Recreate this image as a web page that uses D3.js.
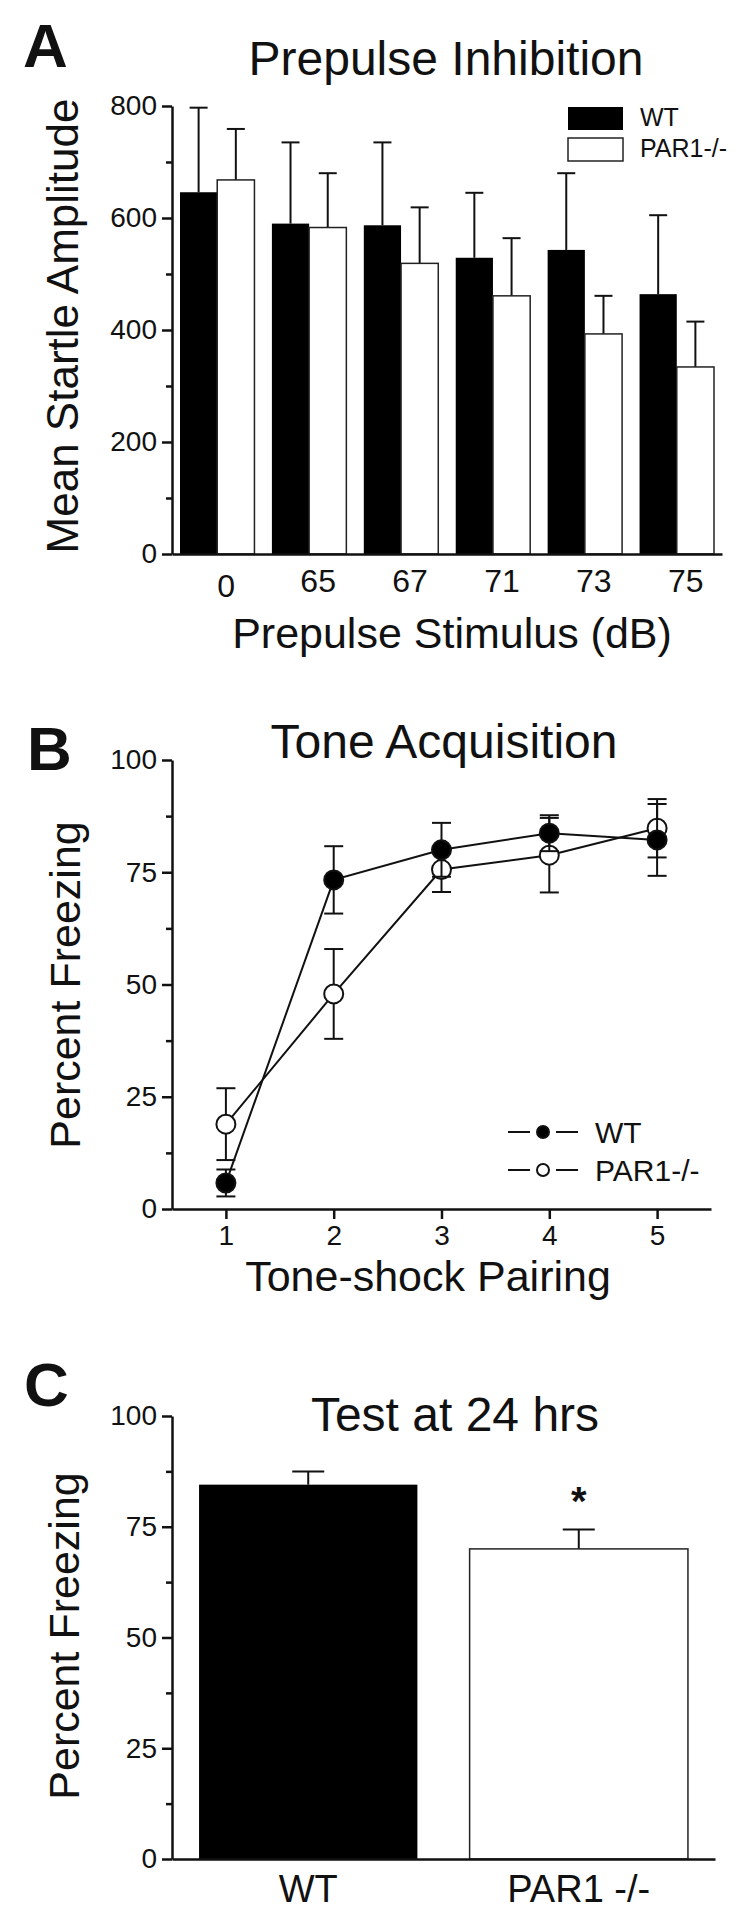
<!DOCTYPE html>
<html>
<head>
<meta charset="utf-8">
<script src="https://cdn.jsdelivr.net/npm/d3@7"></script>
<style>
body { margin: 0; background: #fff; }
svg text { font-family: "Liberation Sans", Arial, sans-serif; fill: #111; }
</style>
</head>
<body>
<script>
var width = 750;
var height = 1932;

// panel A: prepulse inhibition
var ppiStimuli = ["0", "65", "67", "71", "73", "75"];
var ppiWT = [646, 590, 587, 529, 543, 464];
var ppiWTsem = [151, 145, 148, 116, 137, 141];
var ppiKO = [668, 583, 519, 461, 393, 334];
var ppiKOsem = [91, 97, 100, 103, 68, 81];
var ppiTicks = [0, 200, 400, 600, 800];
var ppiMinor = [100, 300, 500, 700];

// panel B: tone acquisition
var pairings = [1, 2, 3, 4, 5];
var acqWT = [5.8, 73.3, 80.0, 83.7, 82.2];
var acqWTsem = [3.0, 7.5, 6.0, 4.0, 8.0];
var acqKO = [18.9, 47.9, 75.6, 78.8, 84.8];
var acqKOsem = [8.0, 10.0, 5.0, 8.3, 6.5];
var pctTicks = [0, 25, 50, 75, 100];
var pctMinor = [12.5, 37.5, 62.5, 87.5];

// panel C: test at 24 hrs
var testGroups = ["WT", "PAR1 -/-"];
var testMean = [84.5, 70.0];
var testSem = [3.0, 4.4];

var seriesNames = ["WT", "PAR1-/-"];

var svg = d3.select("body")
  .append("svg")
  .attr("width", width)
  .attr("height", height);

svg.append("rect")
  .attr("width", width)
  .attr("height", height)
  .attr("fill", "#fff");

function yAxis(g, scale, ticks, minor) {
  var ax = g.append("g")
    .attr("transform", "translate(172,0)")
    .call(d3.axisLeft(scale).tickValues(ticks).tickSize(10).tickPadding(5).tickSizeOuter(0));
  ax.attr("font-size", 28).attr("font-family", null);
  ax.select(".domain").attr("stroke", "#111").attr("stroke-width", 2.5);
  ax.selectAll(".tick line").attr("stroke", "#111").attr("stroke-width", 2.5);
  var mn = g.append("g")
    .attr("transform", "translate(172,0)")
    .call(d3.axisLeft(scale).tickValues(minor).tickSize(6).tickFormat(""));
  mn.select(".domain").remove();
  mn.selectAll(".tick line").attr("stroke", "#111").attr("stroke-width", 2.5);
}

function label(g, txt, x, y, size, opts) {
  opts = opts || {};
  var t = g.append("text")
    .attr("x", x)
    .attr("y", y)
    .attr("font-size", size)
    .attr("text-anchor", opts.anchor || "middle")
    .text(txt);
  if (opts.bold) t.attr("font-weight", "bold");
  if (opts.rotate) t.attr("transform", "rotate(-90," + x + "," + y + ")");
  return t;
}

// ---------------- Panel A ----------------
var gA = svg.append("g");
var yA = d3.scaleLinear().domain([0, 800]).range([554, 106]);
var xA = d3.scaleBand().domain(ppiStimuli).range([172, 722]).paddingInner(0.19).paddingOuter(0.087);
var xA1 = d3.scaleBand().domain(seriesNames).range([0, xA.bandwidth()]);

var ppiRows = ppiStimuli.map(function(s, i) {
  return [
    {stim: s, key: "WT", v: ppiWT[i], e: ppiWTsem[i]},
    {stim: s, key: "PAR1-/-", v: ppiKO[i], e: ppiKOsem[i]}
  ];
});
var ppiFlat = [].concat.apply([], ppiRows);

// error bars (up only)
var ebA = gA.append("g").selectAll("g").data(ppiFlat).enter().append("g");
ebA.append("line")
  .attr("x1", d => xA(d.stim) + xA1(d.key) + xA1.bandwidth() / 2)
  .attr("x2", d => xA(d.stim) + xA1(d.key) + xA1.bandwidth() / 2)
  .attr("y1", d => yA(d.v))
  .attr("y2", d => yA(d.v + d.e))
  .attr("stroke", "#111").attr("stroke-width", 2);
ebA.append("line")
  .attr("x1", d => xA(d.stim) + xA1(d.key) + xA1.bandwidth() / 2 - 9)
  .attr("x2", d => xA(d.stim) + xA1(d.key) + xA1.bandwidth() / 2 + 9)
  .attr("y1", d => yA(d.v + d.e))
  .attr("y2", d => yA(d.v + d.e))
  .attr("stroke", "#111").attr("stroke-width", 2);

gA.append("g").selectAll("rect").data(ppiFlat).enter().append("rect")
  .attr("x", d => xA(d.stim) + xA1(d.key))
  .attr("y", d => yA(d.v))
  .attr("width", xA1.bandwidth())
  .attr("height", d => yA(0) - yA(d.v))
  .attr("fill", d => d.key == "WT" ? "#000" : "#fff")
  .attr("stroke", d => d.key == "WT" ? "none" : "#222")
  .attr("stroke-width", 1.5);

yAxis(gA, yA, ppiTicks, ppiMinor);

var axA = gA.append("g")
  .attr("transform", "translate(0,554)")
  .call(d3.axisBottom(xA).tickSize(0).tickPadding(15).tickSizeOuter(0));
axA.attr("font-size", 32).attr("font-family", null);
axA.select(".domain").attr("stroke", "#111").attr("stroke-width", 2.5);
axA.selectAll(".tick text").attr("dx", 9)
  .attr("dy", d => d == "0" ? "0.86em" : "0.71em");

// legend A
var legA = gA.append("g").selectAll("g").data(seriesNames).enter().append("g")
  .attr("transform", (d, i) => "translate(568," + (107 + i * 31) + ")");
legA.append("rect")
  .attr("width", 55).attr("height", 23)
  .attr("fill", (d, i) => i == 0 ? "#000" : "#fff")
  .attr("stroke", (d, i) => i == 0 ? "none" : "#222")
  .attr("stroke-width", 1.5);
legA.append("text")
  .attr("x", 72).attr("y", 19)
  .attr("font-size", 25)
  .text(d => d);

label(gA, "A", 23, 67, 62, {bold: true, anchor: "start"});
label(gA, "Prepulse Inhibition", 446, 75, 48);
label(gA, "Mean Startle Amplitude", 78, 326, 44, {rotate: true});
label(gA, "Prepulse Stimulus (dB)", 452, 648, 43);

// ---------------- Panel B ----------------
var gB = svg.append("g");
var yB = d3.scaleLinear().domain([0, 100]).range([1209, 760]);
var xB = d3.scaleLinear().domain([0.5, 5.5]).range([172, 711]);

var acqSeries = [
  {key: "PAR1-/-", fill: "#fff", pts: pairings.map((p, i) => ({p: p, v: acqKO[i], e: acqKOsem[i]}))},
  {key: "WT", fill: "#000", pts: pairings.map((p, i) => ({p: p, v: acqWT[i], e: acqWTsem[i]}))}
];

var line = d3.line().x(d => xB(d.p)).y(d => yB(d.v));

var sB = gB.append("g").selectAll("g").data(acqSeries).enter().append("g");
sB.append("path")
  .attr("d", d => line(d.pts))
  .attr("fill", "none")
  .attr("stroke", "#111")
  .attr("stroke-width", 2);

var ebB = sB.selectAll(".eb").data(d => d.pts).enter().append("g").attr("class", "eb");
ebB.append("line")
  .attr("x1", d => xB(d.p)).attr("x2", d => xB(d.p))
  .attr("y1", d => yB(d.v - d.e)).attr("y2", d => yB(d.v + d.e))
  .attr("stroke", "#111").attr("stroke-width", 2);
ebB.selectAll(".cap").data(d => [d.v - d.e, d.v + d.e].map(c => ({p: d.p, c: c})))
  .enter().append("line").attr("class", "cap")
  .attr("x1", d => xB(d.p) - 9.5).attr("x2", d => xB(d.p) + 9.5)
  .attr("y1", d => yB(d.c)).attr("y2", d => yB(d.c))
  .attr("stroke", "#111").attr("stroke-width", 2);

sB.selectAll("circle").data(d => d.pts.map(p => Object.assign({fill: d.fill}, p)))
  .enter().append("circle")
  .attr("cx", d => xB(d.p))
  .attr("cy", d => yB(d.v))
  .attr("r", 9.5)
  .attr("fill", d => d.fill)
  .attr("stroke", "#111")
  .attr("stroke-width", 2);

yAxis(gB, yB, pctTicks, pctMinor);

var axB = gB.append("g")
  .attr("transform", "translate(0,1209)")
  .call(d3.axisBottom(xB).tickValues(pairings).tickSize(10).tickPadding(6).tickSizeOuter(0).tickFormat(d3.format("d")));
axB.attr("font-size", 28).attr("font-family", null);
axB.select(".domain").attr("stroke", "#111").attr("stroke-width", 2.5);
axB.selectAll(".tick line").attr("stroke", "#111").attr("stroke-width", 2.5);

// legend B
var legB = gB.append("g").selectAll("g").data(seriesNames).enter().append("g")
  .attr("transform", (d, i) => "translate(508," + (1132 + i * 38) + ")");
legB.append("line").attr("x1", 0).attr("x2", 22).attr("stroke", "#111").attr("stroke-width", 2);
legB.append("line").attr("x1", 48).attr("x2", 70).attr("stroke", "#111").attr("stroke-width", 2);
legB.append("circle")
  .attr("cx", 35).attr("r", 6)
  .attr("fill", (d, i) => i == 0 ? "#000" : "#fff")
  .attr("stroke", "#111").attr("stroke-width", 2);
legB.append("text")
  .attr("x", 87).attr("y", 11)
  .attr("font-size", 30)
  .text(d => d);

label(gB, "B", 27, 770, 62, {bold: true, anchor: "start"});
label(gB, "Tone Acquisition", 444, 758, 48);
label(gB, "Percent Freezing", 80, 985, 43, {rotate: true});
label(gB, "Tone-shock Pairing", 428, 1291, 43);

// ---------------- Panel C ----------------
var gC = svg.append("g");
var yC = d3.scaleLinear().domain([0, 100]).range([1859, 1416]);
var xC = d3.scaleBand().domain(testGroups).range([172, 715]).paddingInner(0.193).paddingOuter(0.1);

var testRows = testGroups.map((g, i) => ({g: g, v: testMean[i], e: testSem[i], i: i}));

var ebC = gC.append("g").selectAll("g").data(testRows).enter().append("g");
ebC.append("line")
  .attr("x1", d => xC(d.g) + xC.bandwidth() / 2).attr("x2", d => xC(d.g) + xC.bandwidth() / 2)
  .attr("y1", d => yC(d.v)).attr("y2", d => yC(d.v + d.e))
  .attr("stroke", "#111").attr("stroke-width", 2);
ebC.append("line")
  .attr("x1", d => xC(d.g) + xC.bandwidth() / 2 - 16).attr("x2", d => xC(d.g) + xC.bandwidth() / 2 + 16)
  .attr("y1", d => yC(d.v + d.e)).attr("y2", d => yC(d.v + d.e))
  .attr("stroke", "#111").attr("stroke-width", 2);

gC.append("g").selectAll("rect").data(testRows).enter().append("rect")
  .attr("x", d => xC(d.g))
  .attr("y", d => yC(d.v))
  .attr("width", xC.bandwidth())
  .attr("height", d => yC(0) - yC(d.v))
  .attr("fill", d => d.i == 0 ? "#000" : "#fff")
  .attr("stroke", d => d.i == 0 ? "none" : "#222")
  .attr("stroke-width", 1.5);

// significance star
gC.append("text")
  .attr("x", xC(testGroups[1]) + xC.bandwidth() / 2)
  .attr("y", yC(testMean[1] + testSem[1]) - 14)
  .attr("text-anchor", "middle")
  .attr("font-size", 40)
  .attr("font-weight", "bold")
  .text("*");

yAxis(gC, yC, pctTicks, pctMinor);

var axC = gC.append("g")
  .attr("transform", "translate(0,1859)")
  .call(d3.axisBottom(xC).tickSize(0).tickPadding(16).tickSizeOuter(0));
axC.attr("font-size", 38).attr("font-family", null);
axC.select(".domain").attr("stroke", "#111").attr("stroke-width", 2.5);

label(gC, "C", 24, 1406, 62, {bold: true, anchor: "start"});
label(gC, "Test at 24 hrs", 455, 1431, 48);
label(gC, "Percent Freezing", 79, 1636, 43, {rotate: true});
</script>
</body>
</html>
